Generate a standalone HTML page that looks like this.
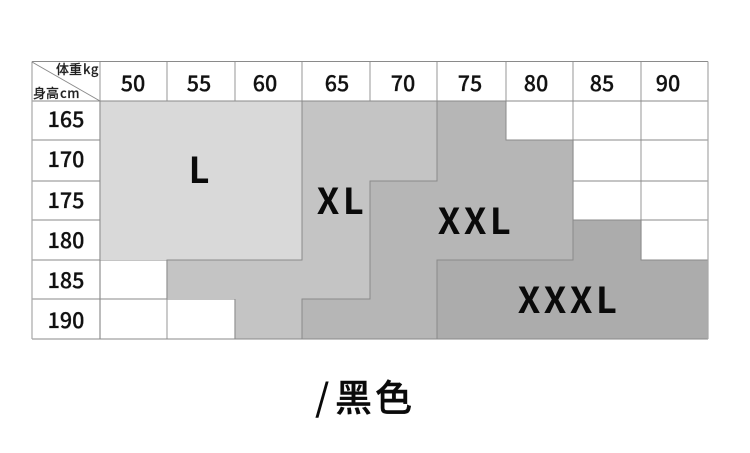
<!DOCTYPE html>
<html>
<head>
<meta charset="utf-8">
<style>
html,body{margin:0;padding:0;background:#fff;width:750px;height:453px;overflow:hidden}
svg{display:block}
text{font-family:"Noto Sans CJK SC","Liberation Sans",sans-serif}
.n{font-size:21.5px;text-anchor:middle;font-weight:500;fill:#111;stroke:#111;stroke-width:.25px}
.s{font-size:13px;font-weight:500;fill:#222;stroke:#222;stroke-width:.15px}
.b{font-size:36px;font-weight:700;text-anchor:middle;fill:#0a0a0a}
</style>
</head>
<body>
<svg width="750" height="453" viewBox="0 0 750 453" xmlns="http://www.w3.org/2000/svg">
<rect width="750" height="453" fill="#fff"/>
<g stroke="#a8a8a8" stroke-width="1.2" fill="none">
<path d="M100 61.500V339M167 61.500V339M235 61.500V339M302 61.500V101M370 61.500V101M437 61.500V101M506 61.500V101M573 61.500V220M641 61.500V260"/>
</g>
<g stroke="#8a8a8a" stroke-width="1" fill="none">
<path d="M32 61.500H708M32 101H708M32 140H100M506 140H708M32 181H100M573 181H708M32 220H100M573 220H708M32 260H167M32 299H235"/>
</g>
<polygon points="100,101 302,101 302,260 100,260" fill="#d9d9d9"/>
<polygon points="302,101 437,101 437,181 370,181 370,299 302,299 302,339 235,339 235,299 167,299 167,260 302,260" fill="#c4c4c4"/>
<polygon points="437,101 506,101 506,140 573,140 573,260 437,260 437,339 302,339 302,299 370,299 370,181 437,181" fill="#b6b6b6"/>
<polygon points="573,220 641,220 641,260 708,260 708,339 437,339 437,260 573,260" fill="#acacac"/>
<g stroke="#8a8a8a" stroke-width="1" fill="none">
<path d="M32 101H708"/>
<path d="M302 101V260H167V299M235 299V339"/>
<path d="M437 101V181H370V299H302V339"/>
<path d="M506 101V140H573V260H437V339"/>
<path d="M573 220H641V260H708"/>
<path d="M100 101V339"/>
<path d="M32 339H708"/>
</g>
<g stroke="#a8a8a8" stroke-width="1.2" fill="none">
<path d="M32 61.500V339M708 61.500V339"/>
</g>
<path d="M32 62L100 101" stroke="#8a8a8a" stroke-width="1" fill="none"/>
<text class="s" x="56" y="74">体重<tspan letter-spacing=".5" dx="1">kg</tspan></text>
<text class="s" x="33" y="98">身高<tspan letter-spacing=".5" dx="1">cm</tspan></text>
<text class="n" x="133" y="91">50</text>
<text class="n" x="199" y="91">55</text>
<text class="n" x="265" y="91">60</text>
<text class="n" x="337" y="91">65</text>
<text class="n" x="403" y="91">70</text>
<text class="n" x="470" y="91">75</text>
<text class="n" x="536" y="91">80</text>
<text class="n" x="602" y="91">85</text>
<text class="n" x="668" y="91">90</text>
<text class="n" x="66" y="127">165</text>
<text class="n" x="66" y="167">170</text>
<text class="n" x="66" y="208">175</text>
<text class="n" x="66" y="248">180</text>
<text class="n" x="66" y="288">185</text>
<text class="n" x="66" y="328">190</text>
<text class="b" x="199" y="183">L</text>
<text class="b" x="342" y="214" letter-spacing="3.500">XL</text>
<text class="b" x="476" y="234" letter-spacing="3.500">XXL</text>
<text class="b" x="569" y="313" letter-spacing="3.500">XXXL</text>
<text x="315" y="411" style="font-size:37px;font-weight:500;fill:#0a0a0a">/</text>
<text x="335" y="411" letter-spacing="3" style="font-size:37px;font-weight:500;fill:#0a0a0a;stroke:#0a0a0a;stroke-width:.4px">黑色</text>
</svg>
</body>
</html>
